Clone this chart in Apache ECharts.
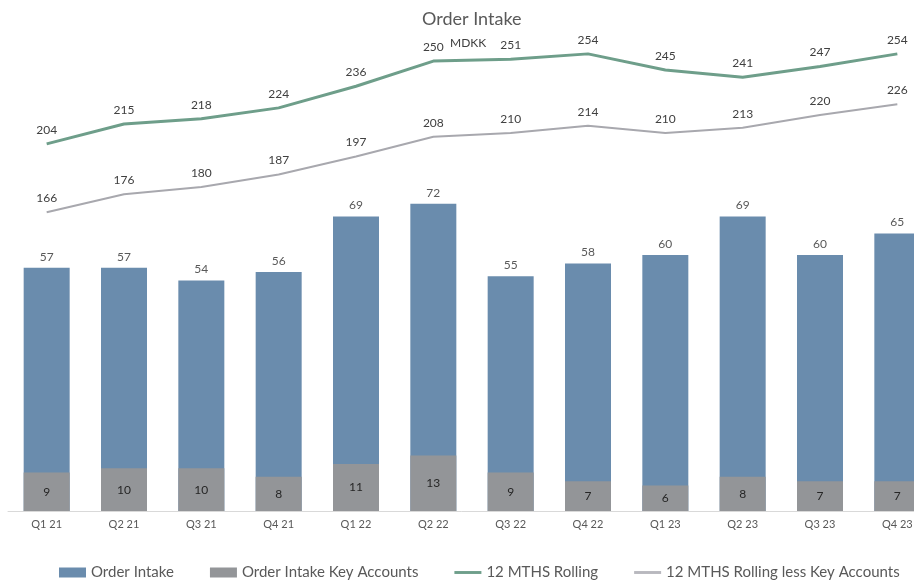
<!DOCTYPE html>
<html><head><meta charset="utf-8">
<script src="https://cdn.jsdelivr.net/npm/echarts@6/dist/echarts.min.js"></script>
<style>html,body{margin:0;padding:0;background:#fff}#c{width:914px;height:581px}</style>
</head><body><div id="c"></div>
<script>
const categories = ['Q1 21','Q2 21','Q3 21','Q4 21','Q1 22','Q2 22','Q3 22','Q4 22','Q1 23','Q2 23','Q3 23','Q4 23'];
const orderIntake = [57,57,54,56,69,72,55,58,60,69,60,65];
const keyAccounts = [9,10,10,8,11,13,9,7,6,8,7,7];
const rolling12 = [204,215,218,224,236,250,251,254,245,241,247,254];
const rollingLessKey = [166,176,180,187,197,208,210,214,210,213,220,226];

const FONT = 'Lato, "Open Sans", sans-serif';
const LINE_ICON = 'path://M0,0 L28,0 L28,3 L0,3 Z';
const chart = echarts.init(document.getElementById('c'), null, {renderer:'canvas'});
chart.setOption({
  animation:false,
  backgroundColor:'#ffffff',
  textStyle:{fontFamily:FONT},
  title:[
    {text:'Order Intake', left:417, top:5, textStyle:{fontFamily:FONT, fontSize:18, fontWeight:'normal', color:'#595959'}},
    {text:'MDKK', left:445, top:32, textStyle:{fontFamily:FONT, fontSize:12, fontWeight:'normal', color:'#404040'}}
  ],
  legend:{
    left:54, top:560, itemGap:36, itemWidth:27, itemHeight:10,
    textStyle:{fontFamily:FONT, fontSize:15, color:'#595959'},
    data:[
      {name:'Order Intake', icon:'rect'},
      {name:'Order Intake Key Accounts', icon:'rect'},
      {name:'12 MTHS Rolling', icon:LINE_ICON},
      {name:'12 MTHS Rolling less Key Accounts', icon:LINE_ICON}
    ]
  },
  grid:{left:8, width:928, top:33, bottom:70, outerBoundsMode:'none', containLabel:false},
  xAxis:{
    type:'category', data:categories,
    axisLine:{lineStyle:{color:'#d9d9d9'}}, axisTick:{show:false},
    axisLabel:{color:'#595959', fontSize:11, margin:8, fontFamily:FONT}
  },
  yAxis:[
    {type:'value', min:0, max:112, show:false, splitLine:{show:false}},
    {type:'value', min:0, max:265.6, show:false, splitLine:{show:false}}
  ],
  series:[
    {name:'Order Intake', type:'bar', data:orderIntake, barWidth:46, yAxisIndex:0,
     itemStyle:{color:'#6a8cad'}, z:2,
     label:{show:true, position:'top', distance:5, color:'#595959', fontSize:12, fontFamily:FONT}},
    {name:'Order Intake Key Accounts', type:'bar', data:keyAccounts, barWidth:46, barGap:'-100%', yAxisIndex:0,
     itemStyle:{color:'#939598'}, z:3,
     label:{show:true, position:'inside', color:'#262626', fontSize:12, fontFamily:FONT}},
    {name:'12 MTHS Rolling', type:'line', data:rolling12, yAxisIndex:1,
     symbol:'circle', symbolSize:0, showSymbol:true,
     lineStyle:{color:'#6e9e8a', width:3}, itemStyle:{color:'#6e9e8a'},
     label:{show:true, position:'top', distance:8, color:'#404040', fontSize:12, fontFamily:FONT}},
    {name:'12 MTHS Rolling less Key Accounts', type:'line', data:rollingLessKey, yAxisIndex:1,
     symbol:'circle', symbolSize:0, showSymbol:true,
     lineStyle:{color:'#a8a8ae', width:2}, itemStyle:{color:'#b8b8be'},
     label:{show:true, position:'top', distance:8, color:'#404040', fontSize:12, fontFamily:FONT}}
  ]
});
</script></body></html>
